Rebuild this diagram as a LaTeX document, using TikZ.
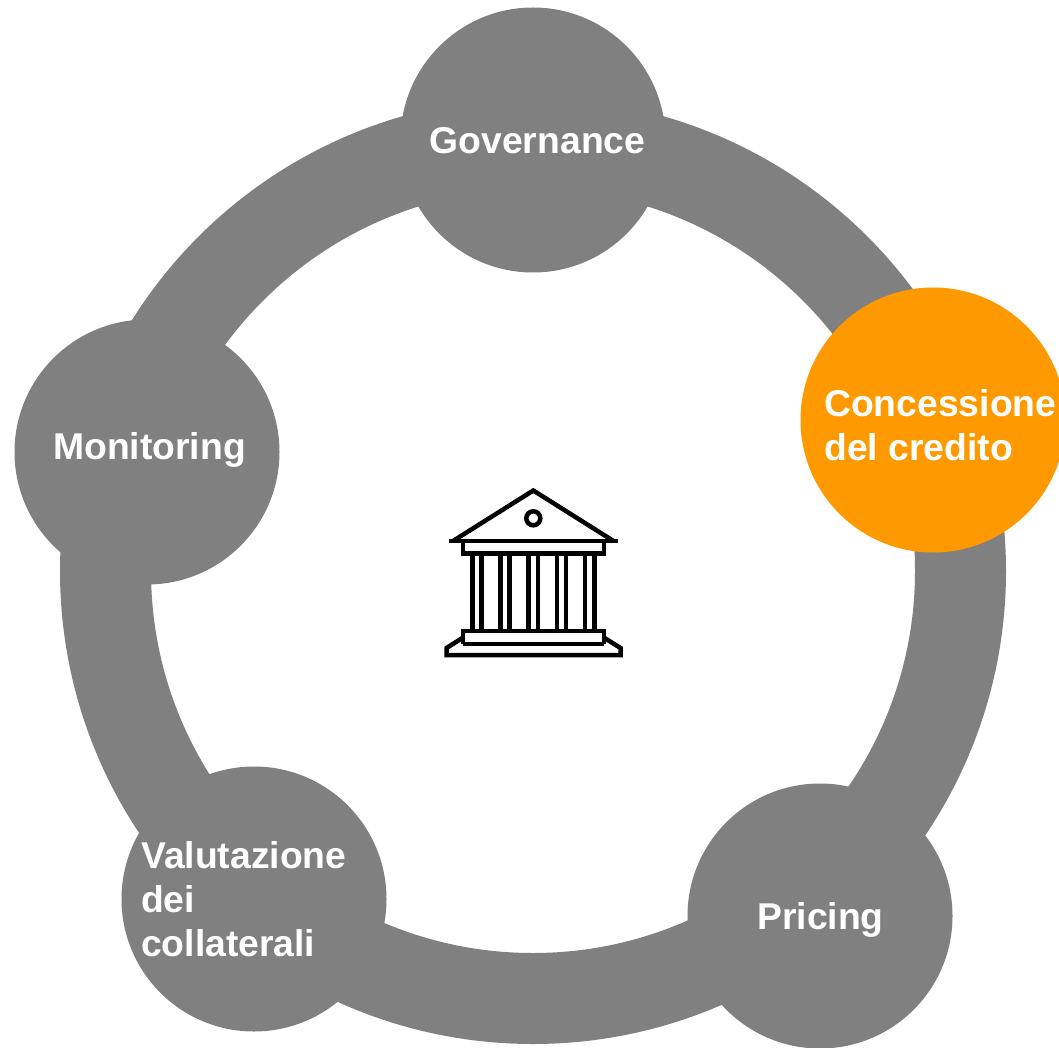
\documentclass[tikz,border=0pt]{standalone}
\usepackage{fontspec}
\setmainfont{Liberation Sans}
\definecolor{ringgray}{HTML}{808080}
\definecolor{accent}{HTML}{FF9900}
\tikzset{
  px/.style={x=1pt,y=-1pt},
  disc/.style={circle,fill=ringgray,minimum size=265pt,inner sep=0pt},
  lab/.style={text=white,font=\fontsize{37.3}{44}\selectfont\bfseries},
  labl/.style={lab,anchor=west,align=left,inner sep=0pt},
  ic/.style={line width=4.5pt,draw=black,line join=miter},
}
\begin{document}
\begin{tikzpicture}[px]
\useasboundingbox (0,0) rectangle (1059,1048);
\draw[ringgray,line width=91pt] (533,571) circle (427.5pt);
\node[disc] (gov) at (533,140) {};
\node[disc,fill=accent] (con) at (933,420) {};
\node[disc] (pri) at (820,916) {};
\node[disc] (val) at (254,899) {};
\node[disc] (mon) at (147,452) {};
\node[lab] (t1) at (537.5,141) {Governance};
\node[labl] (t2) at (824,425) {Concessione\\del credito};
\node[lab] (t3) at (820.5,920) {Pricing};
\node[lab] (t5) at (149.5,450) {Monitoring};
\node[labl] (t4) at (141,899) {Valutazione\\dei\\collaterali};
% bank icon
\draw[ic] (453,541) -- (533.3,490.5) -- (613.5,541);
\draw[ic] (449,541) -- (617.5,541);
\draw[ic] (533.3,518.3) circle (7pt);
\draw[ic] (463,541) -- (463,553.5) -- (604,553.5) -- (604,541);
\foreach \x in {472.3,500.5,528.7,556.9,585.1}{
  \draw[ic] (\x,553.5) -- (\x,631);
  \draw[ic] (\x+9.2,553.5) -- (\x+9.2,631);
}
\draw[ic] (463,644) -- (463,631) -- (604,631) -- (604,644);
\draw[ic] (463,644) -- (604,644);
\draw[ic] (464,637) -- (446.5,648) -- (446.5,655) -- (620.5,655) -- (620.5,648) -- (603,637);
\end{tikzpicture}
\end{document}
